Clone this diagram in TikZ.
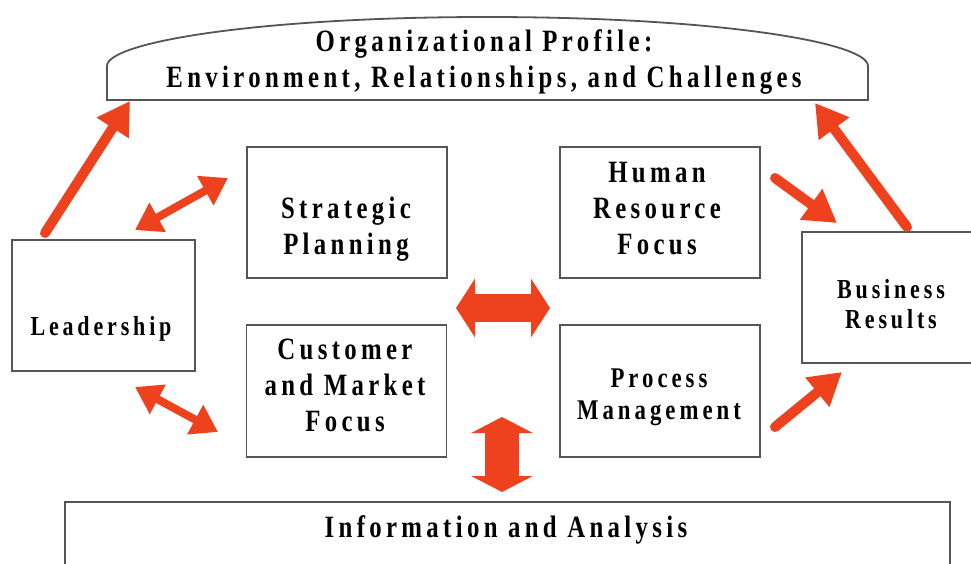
\documentclass[tikz,border=0pt]{standalone}
\usepackage{fontspec}
\setmainfont{Liberation Serif}[LetterSpace=14, FakeStretch=0.8]
\usetikzlibrary{arrows.meta}
\definecolor{arrowred}{RGB}{238,66,30}
\definecolor{boxgray}{RGB}{85,85,85}

\begin{document}
\begin{tikzpicture}[x=1pt, y=-1pt,
        box/.style={draw=boxgray, line width=1.4pt, fill=white, inner sep=0pt},
        lbl/.style={font=\bfseries\fontsize{31}{36}\selectfont, align=center, inner sep=0pt},
        smalllbl/.style={lbl, font=\bfseries\fontsize{27.5}{30}\selectfont},
        onehead/.style={draw=arrowred, line width=10pt, line cap=round, -{Triangle[length=32pt,width=36pt]}},
        twohead/.style={draw=arrowred, line width=8pt, {Triangle[length=26pt,width=32pt]}-{Triangle[length=26pt,width=32pt]}},
        fathead/.style={draw=arrowred, line width=28pt, {Triangle[length=19pt,width=58pt]}-{Triangle[length=19pt,width=58pt]}}]
        \clip (0,0) rectangle (971,564);
        \fill[white] (0,0) rectangle (971,564);

        % profile banner along the top
        \draw[boxgray, line width=1.8pt, fill=white] (107,100) -- (107,66)
            .. controls (107,42) and (260,17) .. (487,17)
            .. controls (714,17) and (868,42) .. (868,66) -- (868,100) -- cycle;
        \node[lbl] (profile) at (484,62) {Organizational Profile:\\Environment, Relationships, and Challenges};

        % boxes
        \node[box, minimum width=183pt, minimum height=131pt] (lead) at (103.5,305.5) {};
        \node[box, minimum width=200pt, minimum height=131pt] (strat) at (347,212.5) {};
        \node[box, minimum width=200pt, minimum height=132pt] (cust) at (346.5,391) {};
        \node[box, minimum width=200pt, minimum height=131pt] (human) at (660,212.5) {};
        \node[box, minimum width=200pt, minimum height=132pt] (process) at (660,391) {};
        \node[box, minimum width=188pt, minimum height=131pt] (business) at (896,297.5) {};
        \node[box, minimum width=885pt, minimum height=98pt] (info) at (507.5,551) {};

        \node[smalllbl] (leadtxt) at (101,329) {Leadership};
        \node[lbl] (strattxt) at (346,229) {Strategic\\Planning};
        \node[lbl] (custtxt) at (345,385) {Customer\\and Market\\Focus};
        \node[lbl] (humantxt) at (657,209) {Human\\Resource\\Focus};
        \node[smalllbl, font=\bfseries\fontsize{28.5}{32}\selectfont] (processtxt) at (659,397) {Process\\Management};
        \node[smalllbl] (businesstxt) at (891,304) {Business\\Results};
        \node[lbl] (infotxt) at (506,530) {Information and Analysis};

        % arrow ends
        \coordinate (leadUp) at (45,233);
        \coordinate (profL) at (130,101);
        \coordinate (busUp) at (907,227);
        \coordinate (profR) at (815,103);
        \coordinate (leadNE) at (135,230);
        \coordinate (stratW) at (228,178);
        \coordinate (leadSE) at (135,387);
        \coordinate (custW) at (218,432);
        \coordinate (humanE) at (775,178);
        \coordinate (busNW) at (837,223);
        \coordinate (processE) at (775,427);
        \coordinate (busSW) at (842,372);
        \coordinate (midL) at (456,308);
        \coordinate (midR) at (550,308);
        \coordinate (midUp) at (502,417);
        \coordinate (infoUp) at (502,492);

        \draw[onehead] (leadUp) -- (profL);
        \draw[onehead] (busUp) -- (profR);
        \draw[onehead] (humanE) -- (busNW);
        \draw[onehead] (processE) -- (busSW);
        \draw[twohead] (leadNE) -- (stratW);
        \draw[twohead] (leadSE) -- (custW);
        \draw[fathead] (midL) -- (midR);
        \draw[fathead, line width=34pt, {Triangle[length=16pt,width=61pt]}-{Triangle[length=16pt,width=61pt]}] (midUp) -- (infoUp);
    \end{tikzpicture}
\end{document}
